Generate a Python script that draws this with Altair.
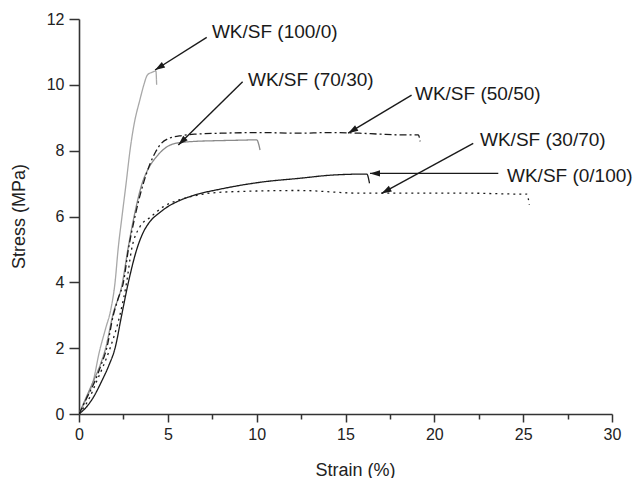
import math
import altair as alt
import pandas as pd

# ---- curve data (strain %, stress MPa) ----
s100_strain = [0, 0.4, 0.8, 1.15, 1.5, 1.8, 2.03, 2.2, 2.42, 2.65, 2.87, 3.1, 3.43, 3.65, 3.85, 4.1, 4.33, 4.37]
s100_stress = [0, 0.45, 1.0, 1.9, 2.6, 3.2, 4.0, 5.0, 6.0, 7.0, 8.0, 8.8, 9.55, 10.0, 10.3, 10.38, 10.42, 10.0]

s70_strain = [0, 0.4, 0.85, 1.2, 1.5, 1.9, 2.45, 2.75, 3.1, 3.55, 3.95, 4.37, 4.9, 5.5, 6.44, 7.5, 8.3, 9.2, 10.0, 10.19]
s70_stress = [0, 0.5, 1.05, 1.5, 2.0, 3.0, 4.0, 5.0, 6.0, 7.0, 7.5, 7.82, 8.1, 8.23, 8.28, 8.3, 8.31, 8.32, 8.33, 8.02]

s50_strain = [0, 0.4, 0.9, 1.25, 1.56, 1.93, 2.2, 2.5, 2.78, 3.15, 3.62, 4.0, 4.3, 4.6, 5.1, 5.8, 6.5, 8.0, 10.2, 12.4, 14.0, 15.8, 17.0, 18.1, 19.1, 19.2]
s50_stress = [0, 0.45, 1.0, 1.5, 2.0, 3.0, 3.5, 4.0, 5.0, 6.0, 7.0, 7.6, 7.95, 8.2, 8.38, 8.46, 8.5, 8.53, 8.55, 8.53, 8.55, 8.53, 8.5, 8.48, 8.48, 8.28]

s30_strain = [0, 0.4, 0.8, 1.28, 1.7, 2.03, 2.4, 2.78, 3.25, 3.6, 4.0, 4.5, 5.0, 5.6, 6.44, 7.94, 10.2, 12.4, 14.3, 16.2, 16.35]
s30_stress = [0, 0.2, 0.5, 1.0, 1.5, 2.0, 3.0, 4.0, 5.0, 5.5, 5.85, 6.1, 6.3, 6.47, 6.64, 6.83, 7.04, 7.16, 7.26, 7.29, 7.01]

s0_strain = [0, 0.6, 1.0, 1.4, 1.75, 2.3, 2.68, 2.96, 3.43, 4.0, 4.75, 5.5, 6.44, 7.38, 9.07, 12.4, 15.8, 17.1, 21.8, 25.0, 25.2, 25.35]
s0_stress = [0, 0.5, 1.0, 1.5, 2.0, 3.0, 4.0, 5.0, 5.69, 5.97, 6.3, 6.48, 6.62, 6.71, 6.76, 6.79, 6.71, 6.71, 6.71, 6.68, 6.68, 6.35]

series_names = ["100/0", "70/30", "50/50", "30/70", "0/100"]
series_colors = ["#a8a8a8", "#8a8a8a", "#1a1a1a", "#1a1a1a", "#1a1a1a"]
series_dashes = [[1, 0], [1, 0], [7, 3, 2, 3], [1, 0], [2, 4]]

# ---- annotations (data units) ----
label_texts = ["WK/SF (100/0)", "WK/SF (70/30)", "WK/SF (50/50)", "WK/SF (30/70)", "WK/SF (0/100)"]
label_x = [7.48, 9.51, 18.91, 22.57, 24.09]
label_y = [11.6, 10.16, 9.71, 8.31, 7.24]
arrow_x0 = [7.19, 9.21, 18.72, 22.19, 23.6]
arrow_y0 = [11.44, 10.09, 9.69, 8.22, 7.31]
arrow_x1 = [4.28, 5.59, 15.15, 17.03, 16.38]
arrow_y1 = [10.45, 8.17, 8.53, 6.70, 7.31]

W, H = 533, 395
XMAX, YMAX = 30, 12

rows = []
for name, xs, ys in zip(series_names,
                        [s100_strain, s70_strain, s50_strain, s30_strain, s0_strain],
                        [s100_stress, s70_stress, s50_stress, s30_stress, s0_stress]):
    for i, (a, b) in enumerate(zip(xs, ys)):
        rows.append({"series": name, "strain": a, "stress": b, "idx": i})
curves = pd.DataFrame(rows)

angles = []
for x0, y0, x1, y1 in zip(arrow_x0, arrow_y0, arrow_x1, arrow_y1):
    dx = (x0 - x1) * W / XMAX
    dy = -(y0 - y1) * H / YMAX
    angles.append(math.degrees(math.atan2(-dx, dy)) % 360)

ann = pd.DataFrame({
    "text": label_texts, "lx": label_x, "ly": label_y,
    "x0": arrow_x0, "y0": arrow_y0, "x1": arrow_x1, "y1": arrow_y1,
    "ang": angles,
})

FONT = "Liberation Sans"
AX = "#333333"

xscale = alt.Scale(domain=[0, XMAX], nice=False, zero=False)
yscale = alt.Scale(domain=[0, YMAX], nice=False, zero=False)

xaxis = alt.Axis(
    values=[i * 2.5 for i in range(13)],
    labelExpr="datum.value % 5 === 0 ? datum.label : ''",
    grid=False, domainColor=AX, domainWidth=1.6, tickColor=AX, tickWidth=1.5,
    tickSize={"condition": {"test": "datum.value % 5 === 0", "value": 8}, "value": 5},
    labelFont=FONT, labelFontSize=16, labelColor="#222", labelPadding=4,
    labelOverlap=False, labelFlush=False,
    title="Strain (%)", titleFont=FONT, titleFontSize=18, titleFontWeight="normal",
    titleColor="#222", titleX=276, titleY=61, titleBaseline="alphabetic",
)
yaxis = alt.Axis(
    values=list(range(13)),
    labelExpr="datum.value % 2 === 0 ? datum.label : ''",
    grid=False, domainColor=AX, domainWidth=1.6, tickColor=AX, tickWidth=1.5,
    tickSize={"condition": {"test": "datum.value % 2 === 0", "value": 10}, "value": 7},
    labelFont=FONT, labelFontSize=16, labelColor="#222", labelPadding=5,
    labelOverlap=False, labelFlush=False,
    title="Stress (MPa)", titleFont=FONT, titleFontSize=18, titleFontWeight="normal",
    titleColor="#222", titleX=-55, titleY=197, titleAngle=270,
    titleBaseline="alphabetic", titleAlign="center",
)

lines = alt.Chart(curves).mark_line(strokeWidth=1.3, clip=True, interpolate="monotone").encode(
    x=alt.X("strain:Q", scale=xscale, axis=xaxis),
    y=alt.Y("stress:Q", scale=yscale, axis=yaxis),
    color=alt.Color("series:N", scale=alt.Scale(domain=series_names, range=series_colors), legend=None),
    strokeDash=alt.StrokeDash("series:N", scale=alt.Scale(domain=series_names, range=series_dashes), legend=None),
    order="idx:Q",
)

arrow_lines = alt.Chart(ann).mark_rule(color="#1a1a1a", strokeWidth=1.4).encode(
    x=alt.X("x0:Q", scale=xscale), y=alt.Y("y0:Q", scale=yscale),
    x2="x1:Q", y2="y1:Q",
)

heads = alt.Chart(ann).mark_point(
    shape="M0,0 L0.32,1 L-0.32,1 Z", filled=True, color="#1a1a1a", opacity=1, size=400, strokeWidth=0,
).encode(
    x=alt.X("x1:Q", scale=xscale), y=alt.Y("y1:Q", scale=yscale),
    angle=alt.Angle("ang:Q", scale=None),
)

labels = alt.Chart(ann).mark_text(
    align="left", baseline="middle", font=FONT, fontSize=19, color="#1a1a1a",
).encode(
    x=alt.X("lx:Q", scale=xscale), y=alt.Y("ly:Q", scale=yscale), text="text:N",
)

chart = alt.layer(lines, arrow_lines, heads, labels).properties(
    width=W, height=H,
    autosize=alt.AutoSizeParams(type="none"),
    padding={"left": 79, "top": 19, "right": 25, "bottom": 64},
    background="white",
).configure_view(stroke=None)

chart.save("out.html", embed_options={"renderer": "svg", "actions": False})
